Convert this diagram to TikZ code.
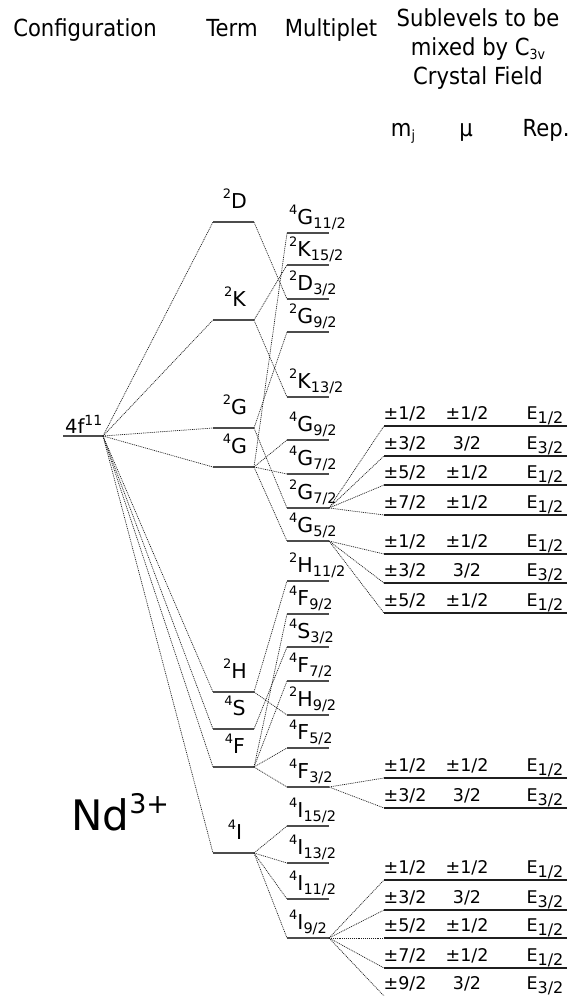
\documentclass[tikz,border=0pt]{standalone}
\usepackage{fontspec}
\setmainfont{DejaVu Sans}
\newfontfamily\hdrfont[FakeStretch=0.9]{DejaVu Sans}
\newcommand{\lsup}[1]{\raisebox{10pt}{\fontsize{13pt}{13pt}\selectfont #1}}
\newcommand{\lsub}[1]{\raisebox{-4pt}{\fontsize{14.5pt}{15pt}\selectfont #1}}
\newcommand{\rsub}[1]{\raisebox{-4.5pt}{\fontsize{16pt}{16pt}\selectfont #1}}
\newcommand{\hsub}[1]{\raisebox{-4pt}{\fontsize{14pt}{14pt}\selectfont #1}}
\definecolor{levc}{gray}{0.3}
\definecolor{slevc}{gray}{0.12}
\definecolor{connc}{gray}{0.12}
\newcommand{\termlev}[4]{%
  \coordinate (#1-l) at (213,#2);
  \coordinate (#1-r) at (254,#2);
  \draw[lev] (#1-l) -- (#1-r);
  \node[tlab] (#1-t) at (235,#2-14) {\lsup{#3}#4};}
\newcommand{\multlev}[5]{%
  \coordinate (#1-l) at (287,#2);
  \coordinate (#1-r) at (329,#2);
  \draw[lev] (#1-l) -- (#1-r);
  \node[mlab] (#1-t) at (289,#2-8.5) {\lsup{#3}#4\lsub{#5}};}
\newcommand{\sublev}[6]{%
  \coordinate (#1-l) at (384,#2);
  \coordinate (#1-r) at (567,#2);
  \draw[slev] (#1-l) -- (#1-r);
  \node[slab] (#1-a) at (405,#2-7) {#3};
  \node[slab] (#1-b) at (467,#2-7) {#4};
  \node[slab] (#1-c) at (545,#2-7) {#5\rsub{#6}};}
\begin{document}
\begin{tikzpicture}[x=1pt,y=-1pt,
  lev/.style={line width=1.3pt, draw=levc},
  slev/.style={line width=1.2pt, draw=slevc},
  conn/.style={line width=0.7pt, draw=connc, dash pattern=on 1pt off 0.9pt},
  hdr/.style={anchor=base, inner sep=0pt, font=\hdrfont\fontsize{23.5pt}{26pt}\selectfont},
  tlab/.style={anchor=base, inner sep=0pt, font=\fontsize{20.5pt}{22pt}\selectfont},
  mlab/.style={anchor=base west, inner sep=0pt, font=\fontsize{20.5pt}{22pt}\selectfont},
  slab/.style={anchor=base, inner sep=0pt, font=\fontsize{17.5pt}{20pt}\selectfont}]
\useasboundingbox (0,0) rectangle (571,996);

% headers
\node[hdr] (hconf) at (85,36) {Configuration};
\node[hdr] (hterm) at (232,36) {Term};
\node[hdr] (hmult) at (331,36) {Multiplet};
\node[hdr] (hsub1) at (478,26) {Sublevels to be};
\node[hdr] (hsub2) at (478,55) {mixed by C\hsub{3v}};
\node[hdr] (hsub3) at (478,84) {Crystal Field};
\node[hdr] (hmj) at (403,136) {m\hsub{j}};
\node[hdr] (hmu) at (466,136) {μ};
\node[hdr] (hrep) at (546,136) {Rep.};

% configuration
\coordinate (cfg-l) at (63,436);
\coordinate (cfg-r) at (103,436);
\draw[lev] (cfg-l) -- (cfg-r);
\node[anchor=base west, inner sep=0pt, font=\fontsize{19.5pt}{22pt}\selectfont] (cfg-t) at (65,433) {4f\raisebox{8pt}{\fontsize{14pt}{14pt}\selectfont 11}};

\node[anchor=base west, inner sep=0pt, font=\fontsize{42pt}{46pt}\selectfont] (nd) at (71,830) {Nd\raisebox{17pt}{\fontsize{27pt}{28pt}\selectfont 3+}};

% terms
\termlev{tD2}{222}{2}{D}
\termlev{tK2}{320}{2}{K}
\termlev{tG2}{428}{2}{G}
\termlev{tG4}{467}{4}{G}
\termlev{tH2}{692}{2}{H}
\termlev{tS4}{729}{4}{S}
\termlev{tF4}{767}{4}{F}
\termlev{tI4}{853}{4}{I}

% multiplets
\multlev{m1}{233}{4}{G}{11/2}
\multlev{m2}{265}{2}{K}{15/2}
\multlev{m3}{299}{2}{D}{3/2}
\multlev{m4}{332}{2}{G}{9/2}
\multlev{m5}{397}{2}{K}{13/2}
\multlev{m6}{440}{4}{G}{9/2}
\multlev{m7}{474}{4}{G}{7/2}
\multlev{m8}{508}{2}{G}{7/2}
\multlev{m9}{541}{4}{G}{5/2}
\multlev{m10}{581}{2}{H}{11/2}
\multlev{m11}{614}{4}{F}{9/2}
\multlev{m12}{647}{4}{S}{3/2}
\multlev{m13}{681}{4}{F}{7/2}
\multlev{m14}{715}{2}{H}{9/2}
\multlev{m15}{748}{4}{F}{5/2}
\multlev{m16}{787}{4}{F}{3/2}
\multlev{m17}{826}{4}{I}{15/2}
\multlev{m18}{863}{4}{I}{13/2}
\multlev{m19}{899}{4}{I}{11/2}
\multlev{m20}{938}{4}{I}{9/2}

% sublevels
\sublev{ga}{426}{±1/2}{±1/2}{E}{1/2}
\sublev{gb}{456}{±3/2}{3/2}{E}{3/2}
\sublev{gc}{485}{±5/2}{±1/2}{E}{1/2}
\sublev{gd}{515}{±7/2}{±1/2}{E}{1/2}
\sublev{ha}{554}{±1/2}{±1/2}{E}{1/2}
\sublev{hb}{583}{±3/2}{3/2}{E}{3/2}
\sublev{hc}{613}{±5/2}{±1/2}{E}{1/2}
\sublev{fa}{778}{±1/2}{±1/2}{E}{1/2}
\sublev{fb}{808}{±3/2}{3/2}{E}{3/2}
\sublev{ia}{880}{±1/2}{±1/2}{E}{1/2}
\sublev{ib}{910}{±3/2}{3/2}{E}{3/2}
\sublev{ic}{938}{±5/2}{±1/2}{E}{1/2}
\sublev{id}{968}{±7/2}{±1/2}{E}{1/2}
\coordinate (ie-l) at (384,996);
\node[slab] (ie-a) at (405,989) {±9/2};
\node[slab] (ie-b) at (467,989) {3/2};
\node[slab] (ie-c) at (545,989) {E\rsub{3/2}};

% configuration -> terms
\foreach \t in {tD2,tK2,tG2,tG4,tH2,tS4,tF4,tI4}
  \draw[conn] (cfg-r) -- (\t-l);

% terms -> multiplets
\draw[conn] (tD2-r) -- (m3-l);
\draw[conn] (tK2-r) -- (m2-l);
\draw[conn] (tK2-r) -- (m5-l);
\draw[conn] (tG2-r) -- (m4-l);
\draw[conn] (tG2-r) -- (m8-l);
\foreach \m in {m1,m6,m7,m9} \draw[conn] (tG4-r) -- (\m-l);
\draw[conn] (tH2-r) -- (m10-l);
\draw[conn] (tH2-r) -- (m14-l);
\draw[conn] (tS4-r) -- (m12-l);
\foreach \m in {m11,m13,m15,m16} \draw[conn] (tF4-r) -- (\m-l);
\foreach \m in {m17,m18,m19,m20} \draw[conn] (tI4-r) -- (\m-l);

% multiplets -> sublevels
\foreach \s in {ga,gb,gc,gd} \draw[conn] (m8-r) -- (\s-l);
\foreach \s in {ha,hb,hc} \draw[conn] (m9-r) -- (\s-l);
\foreach \s in {fa,fb} \draw[conn] (m16-r) -- (\s-l);
\foreach \s in {ia,ib,ic,id,ie} \draw[conn] (m20-r) -- (\s-l);
\end{tikzpicture}
\end{document}
